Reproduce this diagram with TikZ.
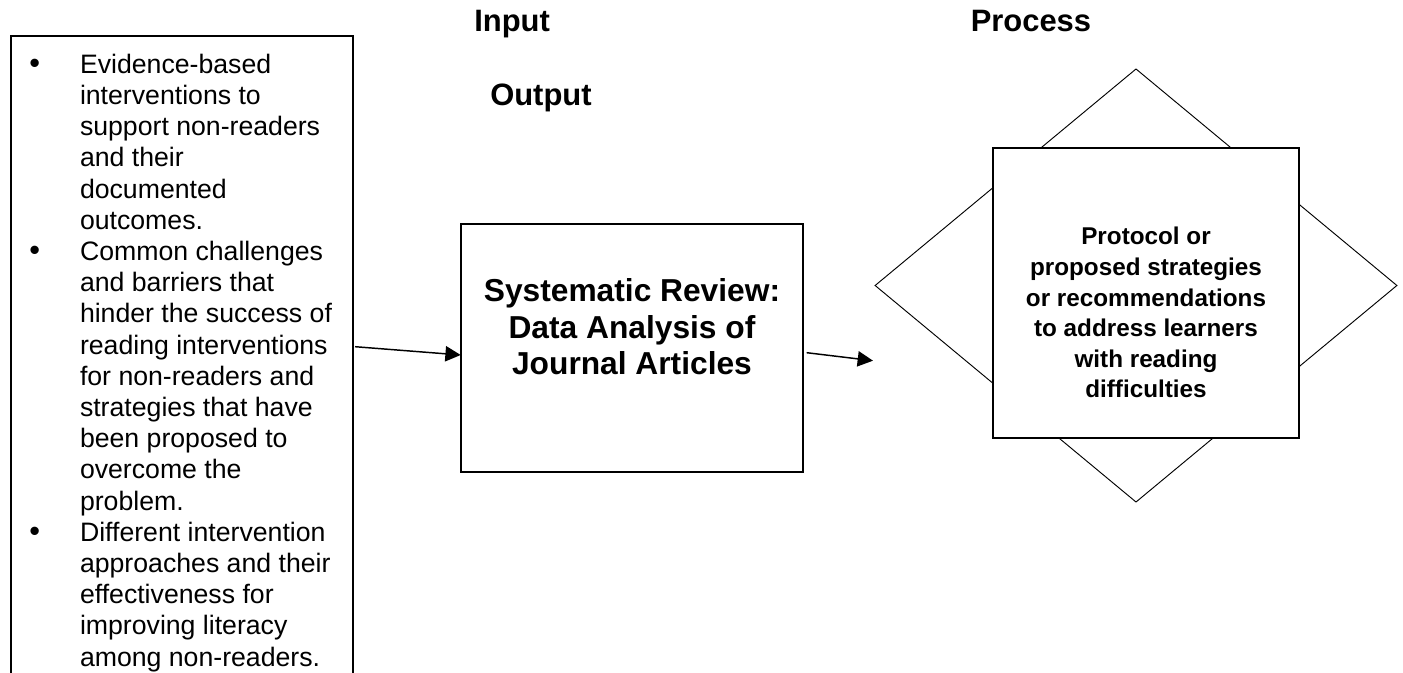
\documentclass[tikz,border=0pt]{standalone}
\usepackage{fontspec}
\setmainfont{Liberation Sans}
\usetikzlibrary{shapes.geometric,arrows.meta,calc}

% bullet hung to the left of the item text
\newcommand{\itemdot}{\leavevmode\llap{{\fontsize{23}{23}\selectfont\textbullet}\hspace{30pt}}}

\begin{document}
\begin{tikzpicture}[x=0.75pt,y=-0.75pt,
  frame/.style={draw=black,line width=1.5pt,inner sep=0pt,outer sep=0pt},
  rhomb/.style={diamond,draw=black,line width=0.7pt,inner sep=0pt,outer sep=0pt},
  flow/.style={draw=black,line width=1.1pt,-{Triangle[length=11.5pt,width=11.5pt]}},
  head/.style={anchor=base west,inner sep=0pt,font=\fontsize{23.2}{27}\selectfont\bfseries},
  body/.style={inner sep=0pt,outer sep=0pt},
]
\fill[white] (0,0) rectangle (1403,673);
\useasboundingbox (0,0) rectangle (1403,673);

% column headings
\node[head] (hin)  at (474,32)   {Input};
\node[head] (hpr)  at (970.5,31.7) {Process};
\node[head] (hout) at (490,106)  {Output};

% left list of inputs (box runs past the lower edge)
\node[frame,minimum width=256.5pt,minimum height=513.2pt] (lbox) at (181.7,377.85) {};
\node[body,anchor=north west] (ltext) at (80,51.4) {%
  \begin{minipage}[t]{260pt}\raggedright
  \fontsize{20}{23.4}\selectfont
  \itemdot\strut Evidence-based\\
  interventions to\\
  support non-readers\\
  and their\\
  documented\\
  outcomes.\\
  \itemdot Common challenges\\
  and barriers that\\
  hinder the success of\\
  reading interventions\\
  for non-readers and\\
  strategies that have\\
  been proposed to\\
  overcome the\\
  problem.\\
  \itemdot Different intervention\\
  approaches and their\\
  effectiveness for\\
  improving literacy\\
  among non-readers.
  \end{minipage}};

% middle process box
\node[frame,minimum width=256.7pt,minimum height=186pt] (mid) at (631.85,348) {};
\node[body,anchor=north] (midtext) at (632,276.0) {%
  \begin{minipage}[t]{255pt}\centering
  \fontsize{23.8}{27.5}\selectfont\bfseries
  \strut Systematic Review:\\
  Data Analysis of\\
  Journal Articles
  \end{minipage}};

% outcome: diamond behind a white square
\node[rhomb,minimum width=391.3pt,minimum height=324.75pt] (dia) at (1136,285.5) {};
\node[frame,fill=white,minimum width=229.5pt,minimum height=217pt] (sq) at (1146.3,293) {};
\node[body,anchor=north] (sqtext) at (1146,223.6) {%
  \begin{minipage}[t]{215pt}\centering
  \fontsize{18.2}{22.9}\selectfont\bfseries
  \strut Protocol or\\
  proposed strategies\\
  or recommendations\\
  to address learners\\
  with reading\\
  difficulties
  \end{minipage}};

% connectors
\coordinate (a2end) at (873,360.7);
\draw[flow] ($(lbox.east)+(2.3,-31.15)$) -- ($(mid.west)+(0,7)$);
\draw[flow] ($(mid.east)+(3.7,4.7)$) -- (a2end);
\end{tikzpicture}
\end{document}
